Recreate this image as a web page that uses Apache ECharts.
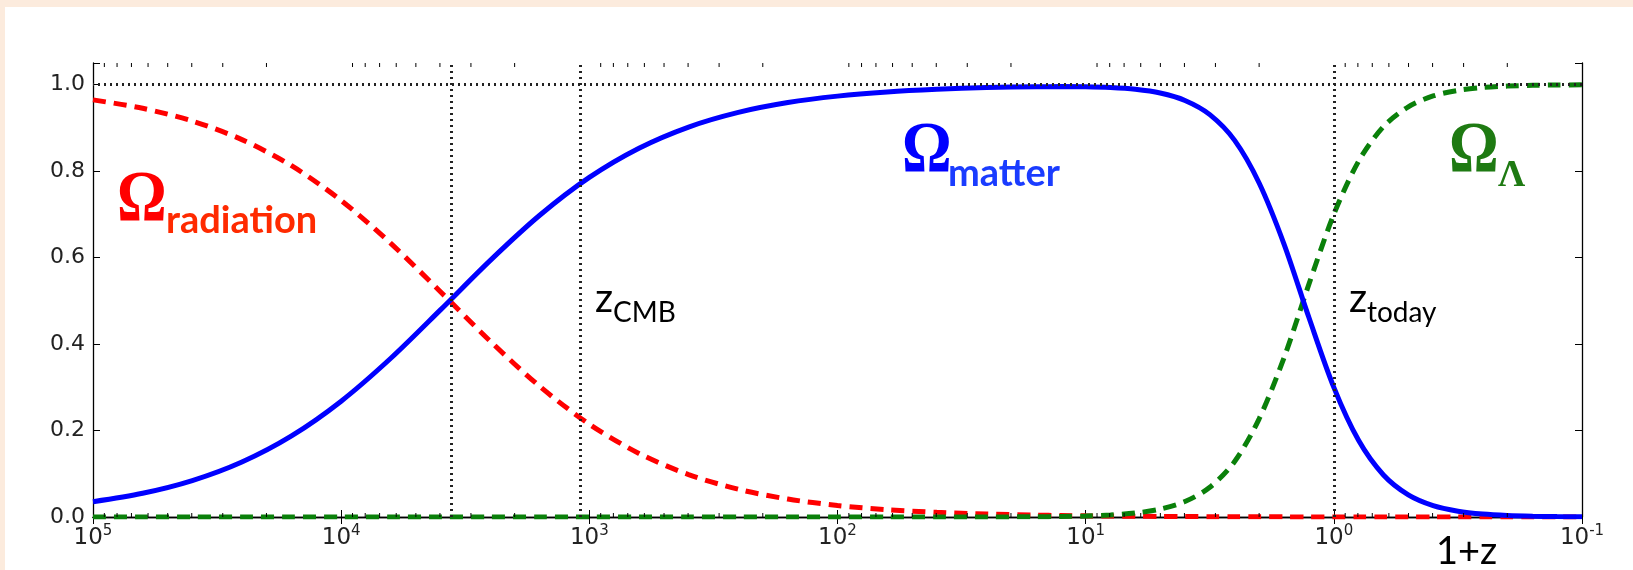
<!DOCTYPE html>
<html><head><meta charset="utf-8">
<script src="https://cdn.jsdelivr.net/npm/echarts@6/dist/echarts.min.js"></script>
<style>html,body{margin:0;padding:0;background:#fcebdd}#c{width:1633px;height:570px}</style>
</head><body><div id="c"></div>
<script>
// 1+z sample points (log axis, reversed)
const xValues = [100000, 63096, 39811, 25119, 15849, 10000, 6310, 3981, 2512, 1585, 1000, 631, 398, 251, 158.5, 100, 63.1, 39.8, 25.1, 15.85,
  12.59, 10, 7.94, 6.31, 5.01, 3.98, 3.16, 2.51, 2.00, 1.585, 1.259, 1.00, 0.794, 0.631, 0.501, 0.398, 0.316, 0.251, 0.200, 0.158, 0.126, 0.1];
const omegaRadiation = [0.9647, 0.9452, 0.9158, 0.8728, 0.8124, 0.7321, 0.6329, 0.5210, 0.4070, 0.3022, 0.2146, 0.1471, 0.0981, 0.0642, 0.0415, 0.0266, 0.0169, 0.0108, 0.0068, 0.0043,
  0.0034, 0.0027, 0.0022, 0.0017, 0.0013, 0.0010, 0.0008, 0.0006, 0.0004, 0.0003, 0.0002, 0.0001, 0.0001, 0, 0, 0, 0, 0, 0, 0, 0, 0];
const omegaMatter = [0.0353, 0.0548, 0.0842, 0.1272, 0.1876, 0.2679, 0.3671, 0.4790, 0.5930, 0.6978, 0.7854, 0.8529, 0.9019, 0.9358, 0.9585, 0.9734, 0.9831, 0.9892, 0.9931, 0.9951,
  0.9954, 0.9950, 0.9932, 0.9891, 0.9805, 0.9633, 0.9306, 0.8711, 0.7725, 0.6302, 0.4607, 0.2999, 0.1768, 0.0972, 0.0512, 0.0263, 0.0134, 0.0067, 0.0034, 0.0017, 0.0009, 0.0004];
const omegaLambda = [0, 0, 0, 0, 0, 0, 0, 0, 0, 0, 0, 0, 0, 0, 0, 0, 0, 0, 0.0001, 0.0006,
  0.0012, 0.0023, 0.0046, 0.0092, 0.0182, 0.0357, 0.0687, 0.1283, 0.2271, 0.3695, 0.5391, 0.7000, 0.8232, 0.9028, 0.9488, 0.9737, 0.9866, 0.9933, 0.9966, 0.9983, 0.9991, 0.9996];
// reference lines: matter-radiation equality, CMB, today ; and Omega = 1
const verticalMarkers = [3600, 1090, 1];
const horizontalMarker = 1.0;
// axis extents / ticks
const xMin = 0.1, xMax = 100000;
const yMin = 0, yMax = 1.05, yStep = 0.2;

const minorTickValues = [];
for (let k = -1; k < 5; k++) for (let m = 2; m < 10; m++) minorTickValues.push(m * Math.pow(10, k));

const FONT = 'DejaVu Sans';
const chart = echarts.init(document.getElementById('c'), null, {renderer: 'canvas'});
const pair = arr => xValues.map((x, i) => [x, arr[i]]);

const xAxisBase = {
  type: 'log', logBase: 10, min: xMin, max: xMax, inverse: true,
  axisLine: {show: true, lineStyle: {color: '#000', width: 1.3}},
  axisTick: {show: true, inside: true, length: 7, lineStyle: {color: '#000', width: 1}},
  splitLine: {show: false}, minorTick: {show: false}
};
const yAxisBase = {
  type: 'value', min: yMin, max: yMax, interval: yStep,
  axisLine: {show: true, lineStyle: {color: '#000', width: 1.3}},
  axisTick: {show: true, inside: true, length: 7, lineStyle: {color: '#000', width: 1}},
  splitLine: {show: false}
};

function txt(text, left, top, size, family, weight, color, sy) {
  return {type: 'text', left: left, top: top, z: 50, silent: true, scaleY: sy || 1,
    style: {text: text, fontSize: size, fontFamily: family, fontWeight: weight, fill: color}};
}

chart.setOption({
  backgroundColor: '#fcebdd',
  animation: false,
  grid: {left: 93, top: 63, right: 51, bottom: 53, containLabel: false},
  xAxis: [
    Object.assign({}, xAxisBase, {
      position: 'bottom',
      axisLabel: {
        margin: 7,
        formatter: v => '{b|10}{s|' + Math.round(Math.log10(v)) + '}',
        rich: {
          b: {fontSize: 23, fontFamily: FONT, color: '#222'},
          s: {fontSize: 15, fontFamily: FONT, color: '#222', padding: [0, 0, 14, 0]}
        }
      }
    }),
    Object.assign({}, xAxisBase, {position: 'top', axisLabel: {show: false}})
  ],
  yAxis: [
    Object.assign({}, yAxisBase, {
      position: 'left',
      axisLabel: {
        margin: 8, fontSize: 22, fontFamily: FONT, color: '#222',
        formatter: v => (Math.abs(v / yStep - Math.round(v / yStep)) < 1e-6 ? v.toFixed(1) : '')
      }
    }),
    Object.assign({}, yAxisBase, {position: 'right', axisLabel: {show: false}})
  ],
  series: [
    {
      type: 'line', name: 'radiation', data: pair(omegaRadiation), showSymbol: false, smooth: 0.3,
      lineStyle: {color: '#ff0000', width: 5, type: [13, 8]}, z: 3,
      markLine: {
        silent: true, symbol: 'none', label: {show: false}, animation: false,
        lineStyle: {color: '#222', width: 3, type: [2, 4]},
        emphasis: {disabled: true},
        data: verticalMarkers.map(v => ({xAxis: v})).concat([{yAxis: horizontalMarker}])
      }
    },
    {
      type: 'line', name: 'lambda', data: pair(omegaLambda), showSymbol: false, smooth: 0.3,
      lineStyle: {color: '#0a800a', width: 5, type: [13, 8]}, z: 3
    },
    {
      type: 'line', name: 'matter', data: pair(omegaMatter), showSymbol: false, smooth: 0.3,
      lineStyle: {color: '#0000ff', width: 5}, z: 4
    },
    {
      type: 'custom', name: 'minorTicks', silent: true, z: 6,
      data: minorTickValues.map(v => [v, 0]),
      renderItem: function (params, api) {
        const x = api.coord([api.value(0), 0])[0];
        const cs = params.coordSys;
        const yb = cs.y + cs.height, yt = cs.y;
        return {
          type: 'group', children: [
            {type: 'line', shape: {x1: x, y1: yb, x2: x, y2: yb - 4}, style: {stroke: '#000', lineWidth: 1}},
            {type: 'line', shape: {x1: x, y1: yt, x2: x, y2: yt + 4}, style: {stroke: '#000', lineWidth: 1}}
          ]
        };
      }
    }
  ],
  graphic: [
    {type: 'rect', left: 5, top: 7, shape: {width: 1628, height: 563}, style: {fill: '#ffffff'}, z: -10, silent: true},
    // Omega radiation
    txt('Ω', 117, 166, 62, 'Liberation Serif', 'bold', '#ff0000', 1.15),
    txt('radiation', 166, 202, 38, 'Lato', 'bold', '#ff2a00'),
    // Omega matter
    txt('Ω', 902, 117, 62, 'Liberation Serif', 'bold', '#0000ff', 1.15),
    txt('matter', 948, 155, 38, 'Lato', 'bold', '#1a3cff'),
    // Omega Lambda
    txt('Ω', 1449, 117, 62, 'Liberation Serif', 'bold', '#1e7a12', 1.15),
    txt('Λ', 1498, 157, 38, 'Liberation Serif', 'bold', '#1e7a12'),
    // z_CMB
    txt('z', 595, 279, 40, 'Lato', 'normal', '#000'),
    txt('CMB', 613, 299, 28, 'Lato', 'normal', '#000'),
    // z_today
    txt('z', 1349, 279, 40, 'Lato', 'normal', '#000'),
    txt('today', 1367, 299, 28, 'Lato', 'normal', '#000'),
    // axis name
    txt('1+z', 1436, 533, 38, 'Lato', 'normal', '#000')
  ]
});
</script></body></html>
